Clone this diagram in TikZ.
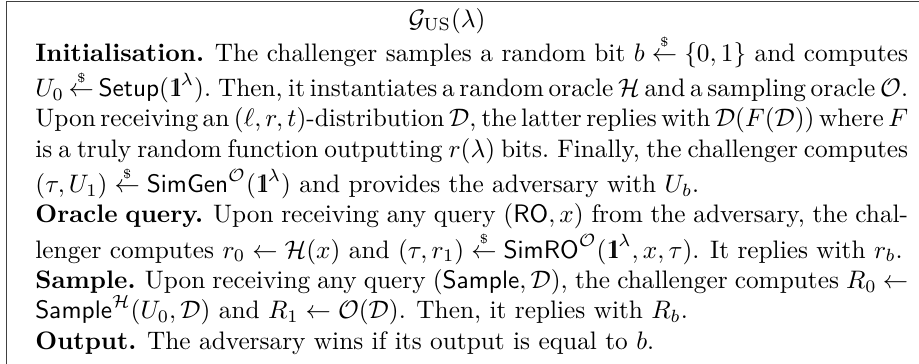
\documentclass[tikz,border=0pt]{standalone}
\usepackage{amsmath,amssymb}
\usetikzlibrary{calc}

% sampling arrow with a dollar sign on top
\newcommand{\sampleto}{\mathrel{\overset{\scriptscriptstyle\$}{\leftarrow}}}
% double-struck one, built from a one and an ell stem
\newcommand{\unary}{\mathrm{1\mkern-5.5mu l}}
% a justified line and a last (ragged) line of a paragraph
\newcommand{\jline}[1]{\hbox to \linewidth{#1}}
\newcommand{\lline}[1]{\hbox to \linewidth{#1\hfil}}

\tikzset{
  gameframe/.style={draw=black!75, line width=0.5pt},
  gametitle/.style={inner sep=0pt, anchor=base},
  gamebody/.style={inner sep=0pt, anchor=north west},
}

\begin{document}
\begin{tikzpicture}[x=1pt,y=1pt]
  \useasboundingbox (0,0) rectangle (363.2,-143.5);
  % frame (only its left and top sides are in view)
  \coordinate (frameTL) at (2.57,-0.6);
  \coordinate (frameBL) at (2.57,-150);
  \coordinate (frameTR) at (370,-0.6);
  \draw[gameframe] (frameBL) -- (frameTL) -- (frameTR);
  % title
  \node[gametitle] (title) at (176.7,-10.7) {$\mathcal{G}_{\mathrm{US}}(\lambda)$};
  % body of the game
  \node[gamebody] (body) at (13.8,-13.6) {%
    \begin{minipage}{344.9pt}
      \hbadness=10000 \hfuzz=10pt
      \spaceskip=3.33pt plus 1.67pt minus 1.7pt
      \xspaceskip=4.2pt plus 2pt minus 1.7pt
      \thickmuskip=5mu plus 5mu minus 2mu
      \medmuskip=4mu plus 2mu minus 3mu
      \jline{\textbf{Initialisation.} The challenger samples a random bit $b \sampleto \{0,1\}$ and computes}
      \jline{$U_0 \sampleto \mathsf{Setup}(\unary^\lambda)$. Then, it instantiates a random oracle $\mathcal{H}$ and a sampling oracle $\mathcal{O}$.}
      \jline{Upon receiving an $(\ell,r,t)$-distribution $\mathcal{D}$, the latter replies with $\mathcal{D}(F(\mathcal{D}))$ where $F$}
      \jline{is a truly random function outputting $r(\lambda)$ bits. Finally, the challenger computes}
      \lline{$(\tau,U_1) \sampleto \mathsf{SimGen}^{\mathcal{O}}(\unary^\lambda)$ and provides the adversary with $U_b$.}
      \jline{\textbf{Oracle query.} Upon receiving any query $(\mathsf{RO},x)$ from the adversary, the chal-}
      \lline{lenger computes $r_0 \leftarrow \mathcal{H}(x)$ and $(\tau,r_1) \sampleto \mathsf{SimRO}^{\mathcal{O}}(\unary^\lambda,x,\tau)$. It replies with $r_b$.}
      \jline{\textbf{Sample.} Upon receiving any query $(\mathsf{Sample},\mathcal{D})$, the challenger computes $R_0 \leftarrow$}
      \lline{$\mathsf{Sample}^{\mathcal{H}}(U_0,\mathcal{D})$ and $R_1 \leftarrow \mathcal{O}(\mathcal{D})$. Then, it replies with $R_b$.}
      \lline{\textbf{Output.} The adversary wins if its output is equal to $b$.}
    \end{minipage}};
\end{tikzpicture}
\end{document}
